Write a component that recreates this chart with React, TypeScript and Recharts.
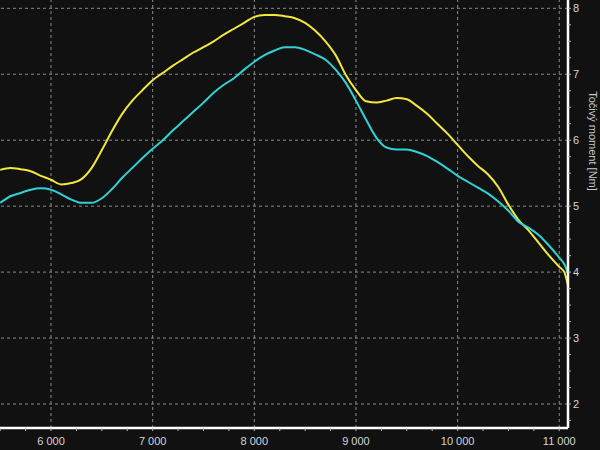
import { LineChart, Line, XAxis, YAxis, ReferenceLine } from 'recharts';

// engine speed [1/min]
const rpm = [
  5500, 5600, 5700, 5800, 5900, 6000, 6100, 6200, 6300, 6400, 6500, 6600, 6700, 6800, 6900,
  7000, 7100, 7200, 7300, 7400, 7500, 7600, 7700, 7800, 7900, 8000, 8100, 8200, 8300, 8400,
  8500, 8600, 8700, 8800, 8900, 9000, 9100, 9200, 9300, 9400, 9500, 9600, 9700, 9800, 9900,
  10000, 10100, 10200, 10300, 10400, 10500, 10600, 10700, 10800, 10900, 11000, 11050, 11085,
];

// torque [Nm], yellow run
const torqueYellow = [
  5.55, 5.58, 5.56, 5.53, 5.46, 5.4, 5.33, 5.35, 5.41, 5.58, 5.85, 6.14, 6.4, 6.6, 6.76,
  6.91, 7.02, 7.13, 7.23, 7.33, 7.41, 7.5, 7.6, 7.69, 7.78, 7.87, 7.9, 7.9, 7.88, 7.85,
  7.78, 7.66, 7.5, 7.29, 6.99, 6.76, 6.59, 6.57, 6.6, 6.64, 6.62, 6.52, 6.4, 6.25, 6.1,
  5.93, 5.76, 5.61, 5.48, 5.29, 5.02, 4.79, 4.63, 4.44, 4.25, 4.08, 4.0, 3.8,
];

// torque [Nm], cyan run
const torqueCyan = [
  5.05, 5.15, 5.2, 5.25, 5.27, 5.25, 5.18, 5.1, 5.05, 5.05, 5.12, 5.26, 5.43, 5.58, 5.73,
  5.87, 6.0, 6.15, 6.29, 6.43, 6.57, 6.72, 6.84, 6.94, 7.07, 7.19, 7.29, 7.36, 7.41, 7.41,
  7.37, 7.3, 7.22, 7.07, 6.87, 6.6, 6.31, 6.04, 5.89, 5.86, 5.86, 5.82, 5.76, 5.67, 5.57,
  5.46, 5.37, 5.28, 5.19, 5.07, 4.93, 4.76, 4.67, 4.56, 4.4, 4.22, 4.12, 3.99,
];

const xTicks = [5500, 5750, 6000, 6250, 6500, 6750, 7000, 7250, 7500, 7750, 8000, 8250, 8500, 8750,
  9000, 9250, 9500, 9750, 10000, 10250, 10500, 10750, 11000];
const xGrid = [6000, 7000, 8000, 9000, 10000, 11000];

const yTicks = [1.75, 2, 2.25, 2.5, 2.75, 3, 3.25, 3.5, 3.75, 4, 4.25, 4.5, 4.75, 5, 5.25, 5.5,
  5.75, 6, 6.25, 6.5, 6.75, 7, 7.25, 7.5, 7.75, 8];
const yGrid = [2, 3, 4, 5, 6, 7, 8];

const X_DOMAIN = [5498, 11086];
const Y_DOMAIN = [1.636, 8.126];

const data = rpm.map((r, i) => ({ rpm: r, yellow: torqueYellow[i], cyan: torqueCyan[i] }));

const fmtRpm = (v: number) => (v % 1000 === 0 ? `${v / 1000} 000` : '');
const fmtNm = (v: number) => (Number.isInteger(v) ? String(v) : '');

const tickStyle = { fill: '#d4d4d4', fontSize: 11, fontFamily: 'Liberation Sans, Arial, sans-serif' };

// rotated title next to the right axis
const AxisTitle = (props: any) => {
  const { viewBox } = props;
  const x = viewBox.x + 25;
  const y = 141;
  return (
    <text
      x={x}
      y={y}
      transform={`rotate(90 ${x} ${y})`}
      textAnchor="middle"
      dominantBaseline="central"
      fill="#c8c8c8"
      fontSize={11}
      fontFamily="Liberation Sans, Arial, sans-serif"
    >
      Točivý moment [Nm]
    </text>
  );
};

export default function App() {
  return (
    <div style={{ position: 'absolute', left: 0, top: 0, width: 600, height: 450, background: '#111111' }}>
      <LineChart width={600} height={450} data={data} margin={{ top: 0, right: 0, left: 0, bottom: 0 }}>
        <XAxis
          dataKey="rpm"
          type="number"
          domain={X_DOMAIN}
          allowDataOverflow
          ticks={xTicks}
          interval={0}
          tickFormatter={fmtRpm}
          height={22}
          tickSize={3}
          tickMargin={6}
          tick={tickStyle}
          tickLine={{ stroke: '#bbbbbb' }}
          axisLine={{ stroke: '#ffffff', strokeWidth: 2.5 }}
        />
        <YAxis
          orientation="right"
          type="number"
          domain={Y_DOMAIN}
          allowDataOverflow
          ticks={yTicks}
          interval={0}
          tickFormatter={fmtNm}
          width={32}
          tickSize={3}
          tickMargin={2}
          tick={tickStyle}
          tickLine={{ stroke: '#bbbbbb' }}
          axisLine={{ stroke: '#ffffff', strokeWidth: 2.5 }}
          label={{ content: AxisTitle }}
        />
        {xGrid.map((v) => (
          <ReferenceLine key={`x${v}`} x={v} stroke="#8c8c8c" strokeDasharray="3 3" />
        ))}
        {yGrid.map((v) => (
          <ReferenceLine key={`y${v}`} y={v} stroke="#8c8c8c" strokeDasharray="3 3" />
        ))}
        <Line type="monotone" dataKey="yellow" stroke="#f2e83c" strokeWidth={2} dot={false} activeDot={false} isAnimationActive={false} />
        <Line type="monotone" dataKey="cyan" stroke="#2fd3d6" strokeWidth={2} dot={false} activeDot={false} isAnimationActive={false} />
      </LineChart>
    </div>
  );
}
